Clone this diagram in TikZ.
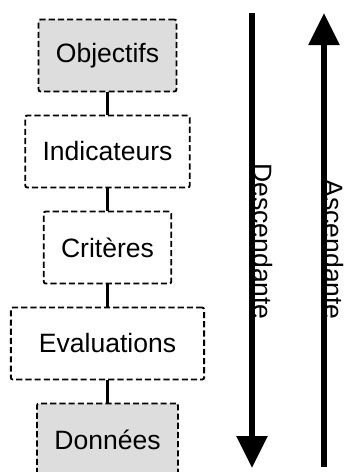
\documentclass[tikz,border=0pt]{standalone}
\usepackage{fontspec}
\setmainfont{Liberation Sans}
\usetikzlibrary{arrows.meta}
\definecolor{boxgray}{RGB}{221,221,221}

\begin{document}
\begin{tikzpicture}[x=0.75pt,y=-0.75pt,node distance=72pt,
    stage/.style={draw,dash pattern=on 4.6pt off 2.3pt,line width=1.4pt,rounded corners=1.5pt,
        minimum height=54pt,inner xsep=13pt,font=\fontsize{19.9}{24}\selectfont},
    grey/.style={fill=boxgray},
    link/.style={line width=1.6pt},
    flow/.style={line width=4pt,-{Triangle[width=22.5pt,length=24pt]}},
    side/.style={rotate=-90,anchor=base east,inner sep=0pt,font=\fontsize{19.9}{24}\selectfont}]
    \useasboundingbox (0,0) rectangle (344,472);
    % the five stages
    \node[stage,grey] at (107.5,55.5) (obj) {Objectifs};
    \node[stage,below of=obj] (ind) {Indicateurs};
    \node[stage,below of=ind] (crit) {Critères};
    \node[stage,below of=crit,minimum width=145pt] (eval) {Evaluations};
    \node[stage,grey,below of=eval] (don) {Données};
    \draw[link] (obj) -- (ind);
    \draw[link] (ind) -- (crit);
    \draw[link] (crit) -- (eval);
    \draw[link] (eval) -- (don);
    % the two directions
    \coordinate (dtop) at (252,13);
    \coordinate (dbot) at (252,468);
    \coordinate (abot) at (324,467);
    \coordinate (atop) at (324,13);
    \draw[flow] (dtop) -- (dbot);
    \draw[flow] (abot) -- (atop);
    \node[side] at (253,320) (desc) {Descendante};
    \node[side] at (324.5,320) (asc) {Ascendante};
\end{tikzpicture}
\end{document}
